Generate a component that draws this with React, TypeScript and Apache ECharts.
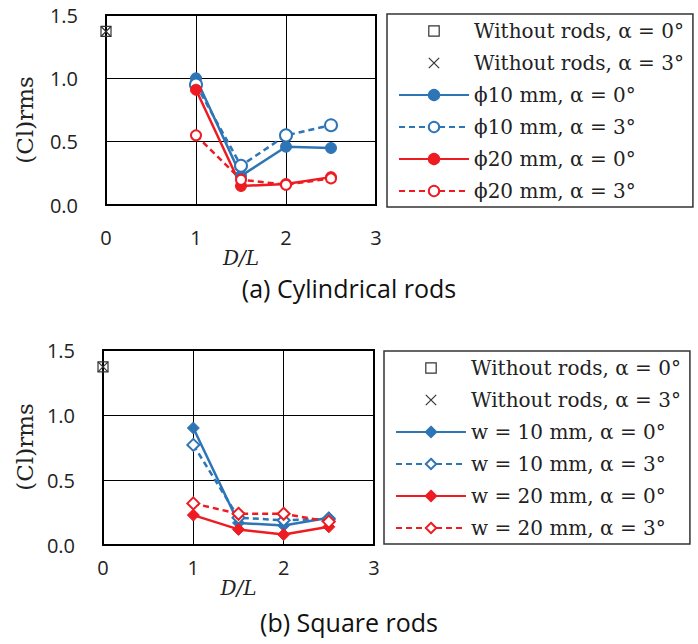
import React, { useEffect, useRef } from "react";
import * as echarts from "echarts";

// ---- Data ----
const xRods = [1, 1.5, 2, 2.5];
const xNoRods = [0];

// (a) Cylindrical rods
const noRodsA0Top = [1.37];
const noRodsA3Top = [1.37];
const phi10A0 = [1.0, 0.23, 0.46, 0.45];
const phi10A3 = [0.95, 0.31, 0.55, 0.63];
const phi20A0 = [0.91, 0.15, 0.165, 0.22];
const phi20A3 = [0.55, 0.2, 0.16, 0.21];

// (b) Square rods
const noRodsA0Bot = [1.37];
const noRodsA3Bot = [1.37];
const w10A0 = [0.9, 0.17, 0.15, 0.21];
const w10A3 = [0.77, 0.21, 0.19, 0.2];
const w20A0 = [0.23, 0.12, 0.08, 0.14];
const w20A3 = [0.32, 0.24, 0.24, 0.18];

const xTicks = [0, 1, 2, 3];
const yTicks = [0, 0.5, 1.0, 1.5];

const NAME_NR0 = "Without rods, α = 0°";
const NAME_NR3 = "Without rods, α = 3°";
const topNames = [NAME_NR0, NAME_NR3, "ϕ10 mm, α = 0°", "ϕ10 mm, α = 3°", "ϕ20 mm, α = 0°", "ϕ20 mm, α = 3°"];
const botNames = [NAME_NR0, NAME_NR3, "w = 10 mm, α = 0°", "w = 10 mm, α = 3°", "w = 20 mm, α = 0°", "w = 20 mm, α = 3°"];

const BLUE = "#2E75B6";
const RED = "#EE1B22";
const XPATH = "path://M0,0L10,10M10,0L0,10";

const zip = (xs: number[], ys: number[]) => xs.map((x, i) => [x, ys[i]]);

function lineSeries(name: string, xs: number[], ys: number[], idx: number, color: string, dashed: boolean, symbol: string, size: number, empty: boolean) {
  return {
    type: "line",
    name,
    xAxisIndex: idx,
    yAxisIndex: idx,
    data: zip(xs, ys),
    symbol,
    symbolSize: size,
    showSymbol: true,
    clip: false,
    lineStyle: { color, width: 2.5, type: dashed ? [6, 4] : "solid" },
    itemStyle: empty ? { color, borderWidth: 2 } : { color, borderColor: color, borderWidth: 1 },
    z: 3,
  };
}

function noRodsSeries(name: string, ys: number[], idx: number, isX: boolean) {
  return {
    type: "line",
    name,
    xAxisIndex: idx,
    yAxisIndex: idx,
    data: zip(xNoRods, ys),
    symbol: isX ? XPATH : "rect",
    symbolSize: 10,
    clip: false,
    lineStyle: { width: 0, opacity: 0 },
    itemStyle: { color: "transparent", borderColor: "#333", borderWidth: 1.2 },
    z: 4,
  };
}

const tickFont = { fontFamily: "Open Sans", fontSize: 20, color: "#222" };
const serifTitle = { fontFamily: "DejaVu Serif", fontSize: 23, fill: "#222", align: "center", verticalAlign: "middle" };

function legendData(names: string[]) {
  return names.map((n, i) => {
    if (i < 2) {
      return {
        name: n,
        lineStyle: { width: 0, opacity: 0 },
        itemStyle: { color: "transparent", borderColor: "#333", borderWidth: 1.2 },
      };
    }
    return { name: n };
  });
}

export default function App() {
  const ref = useRef<HTMLDivElement>(null);
  useEffect(() => {
    if (!ref.current) return;
    const chart = echarts.init(ref.current, null, { renderer: "svg" });
    const grids = [
      { left: 106, top: 15, width: 270, height: 190 },
      { left: 103, top: 350, width: 271, height: 195 },
    ];
    const xAxis = grids.map((_, i) => ({
      type: "value",
      gridIndex: i,
      min: 0,
      max: 3,
      interval: 1,
      axisLine: { show: false },
      axisTick: { show: false },
      splitLine: { show: true, lineStyle: { color: "#000", width: 1 } },
      axisLabel: { ...tickFont, margin: i === 0 ? 22 : 12, formatter: (v: number) => (xTicks.includes(v) ? String(v) : "") },
      name: "D/L",
      nameLocation: "middle",
      nameGap: i === 0 ? 41 : 29,
      nameTextStyle: { fontFamily: "DejaVu Serif", fontStyle: "italic", fontSize: 20, color: "#222" },
    }));
    const yAxis = grids.map((_, i) => ({
      type: "value",
      gridIndex: i,
      min: 0,
      max: 1.5,
      interval: 0.5,
      axisLine: { show: false },
      axisTick: { show: false },
      splitLine: { show: true, lineStyle: { color: "#000", width: 1 } },
      axisLabel: { ...tickFont, margin: 28, formatter: (v: number) => (yTicks.includes(v) ? v.toFixed(1) : "") },
    }));

    const series = [
      noRodsSeries(NAME_NR0, noRodsA0Top, 0, false),
      noRodsSeries(NAME_NR3, noRodsA3Top, 0, true),
      lineSeries(topNames[2], xRods, phi10A0, 0, BLUE, false, "circle", 11, false),
      lineSeries(topNames[3], xRods, phi10A3, 0, BLUE, true, "emptyCircle", 12, true),
      lineSeries(topNames[4], xRods, phi20A0, 0, RED, false, "circle", 11, false),
      lineSeries(topNames[5], xRods, phi20A3, 0, RED, true, "emptyCircle", 10, true),
      noRodsSeries(NAME_NR0, noRodsA0Bot, 1, false),
      noRodsSeries(NAME_NR3, noRodsA3Bot, 1, true),
      lineSeries(botNames[2], xRods, w10A0, 1, BLUE, false, "diamond", 12, false),
      lineSeries(botNames[3], xRods, w10A3, 1, BLUE, true, "emptyDiamond", 12, true),
      lineSeries(botNames[4], xRods, w20A0, 1, RED, false, "diamond", 12, false),
      lineSeries(botNames[5], xRods, w20A3, 1, RED, true, "emptyDiamond", 12, true),
    ];

    const legendCommon = {
      orient: "vertical",
      align: "left",
      itemWidth: 70,
      itemHeight: 13,
      itemGap: 10,
      padding: [6, 9, 5, 11],
      borderColor: "#333",
      borderWidth: 1.5,
      backgroundColor: "#fff",
      selectedMode: false,
      textStyle: { fontFamily: "DejaVu Serif", fontSize: 20, color: "#222", lineHeight: 22 },
    };

    chart.setOption({
      animation: false,
      backgroundColor: "#fff",
      grid: grids.map((g) => ({ ...g, show: true, borderColor: "#000", borderWidth: 2, backgroundColor: "transparent" })),
      xAxis,
      yAxis,
      legend: [
        { ...legendCommon, left: 387, top: 14, data: legendData(topNames) },
        { ...legendCommon, left: 384, top: 351, data: legendData(botNames) },
      ],
      series,
      graphic: [
        { type: "text", x: 25, y: 120, rotation: Math.PI / 2, style: { text: "(Cl)rms", ...serifTitle } },
        { type: "text", x: 25, y: 447, rotation: Math.PI / 2, style: { text: "(Cl)rms", ...serifTitle } },
        { type: "text", left: "center", top: 275, style: { text: "(a) Cylindrical rods", fontFamily: "Open Sans", fontSize: 25, fill: "#111" } },
        { type: "text", left: "center", top: 609, style: { text: "(b) Square rods", fontFamily: "Open Sans", fontSize: 25, fill: "#111" } },
      ],
    });
    return () => chart.dispose();
  }, []);
  return <div ref={ref} style={{ position: "fixed", left: 0, top: 0, width: 698, height: 644 }} />;
}
